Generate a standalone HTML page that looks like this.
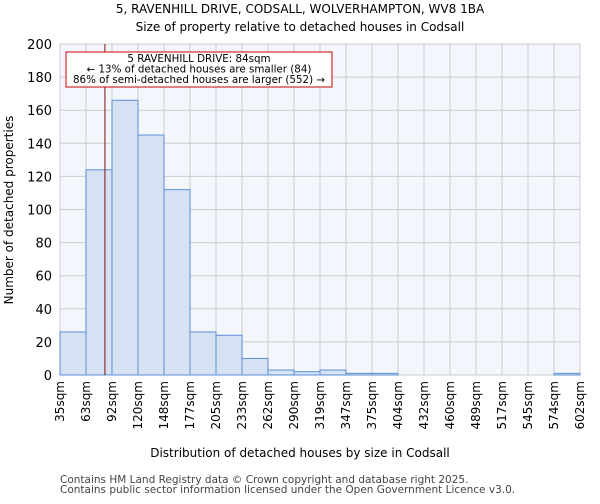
<!DOCTYPE html>
<html><head><meta charset="utf-8"><style>
body{margin:0;background:#fff;font-family:"DejaVu Sans","Liberation Sans",sans-serif}
svg text{font-family:"DejaVu Sans","Liberation Sans",sans-serif}
</style></head><body>
<svg id="chart" width="600" height="500" xmlns="http://www.w3.org/2000/svg">
<text x="300" y="13" text-anchor="middle" font-size="12">5, RAVENHILL DRIVE, CODSALL, WOLVERHAMPTON, WV8 1BA</text>
<text x="300" y="31" text-anchor="middle" font-size="12">Size of property relative to detached houses in Codsall</text>
<rect x="60" y="44" width="520" height="331" fill="#f3f6fd"/>
<g id="grid"></g><g id="bars"></g><g id="axes"></g>
<text x="300" y="457" text-anchor="middle" font-size="12">Distribution of detached houses by size in Codsall</text>
<text transform="translate(13,210) rotate(-90)" text-anchor="middle" font-size="12">Number of detached properties</text>
<text x="60" y="483" font-size="10.5" fill="#444">Contains HM Land Registry data © Crown copyright and database right 2025.</text>
<text x="60" y="493" font-size="10.5" fill="#444">Contains public sector information licensed under the Open Government Licence v3.0.</text>
</svg>
<script>
const edges=[35,63,92,120,148,177,205,233,262,290,319,347,375,404,432,460,489,517,545,574,602];
const edgeLabels=["35sqm","63sqm","92sqm","120sqm","148sqm","177sqm","205sqm","233sqm","262sqm","290sqm","319sqm","347sqm","375sqm","404sqm","432sqm","460sqm","489sqm","517sqm","545sqm","574sqm","602sqm"];
const counts=[26,124,166,145,112,26,24,10,3,2,3,1,1,0,0,0,0,0,0,1];
const yTicks=[0,20,40,60,80,100,120,140,160,180,200];
const propertySize=84;
const NS="http://www.w3.org/2000/svg";
const L=60,R=580,T=44,B=375;
const xi=i=>L+(R-L)*i/(edges.length-1);
const xv=v=>L+(R-L)*(v-edges[0])/(edges[edges.length-1]-edges[0]);
const y=v=>B-(B-T)*v/200;
function mk(tag,at,parent,txt){const e=document.createElementNS(NS,tag);for(const k in at)e.setAttribute(k,at[k]);if(txt!=null)e.textContent=txt;document.getElementById(parent).appendChild(e);return e;}
yTicks.forEach(t=>{
 const g=mk('line',{x1:L,x2:R,y1:y(t),y2:y(t),stroke:'#ccc','stroke-width':1},'grid');
 
 
 const tl=mk('text',{x:L-8,y:y(t)+5,'text-anchor':'end','font-size':13},'axes',t);
 
 
});
edges.forEach((e,i)=>{
 const g=mk('line',{x1:xi(i),x2:xi(i),y1:T,y2:B,stroke:'#ccc','stroke-width':1},'grid');
 
 
 const tl=mk('text',{transform:`translate(${xi(i)+4},${B+6}) rotate(-90)`,'text-anchor':'end','font-size':12},'axes',edgeLabels[i]);
 
 
});
counts.forEach((c,i)=>{
 const b=mk('rect',{x:xi(i),y:y(c),width:xi(i+1)-xi(i),height:B-y(c),fill:'#d6e1f3',stroke:'#5b8fd6','stroke-width':1},'bars');
 
 
});
const pl=mk('line',{x1:xv(propertySize),x2:xv(propertySize),y1:T,y2:B,stroke:'#7a1010','stroke-width':1},'axes');


const box=mk('rect',{x:66,y:52,width:266,height:35,fill:'#fff',stroke:'#c00','stroke-width':1},'axes');


["5 RAVENHILL DRIVE: 84sqm","← 13% of detached houses are smaller (84)","86% of semi-detached houses are larger (552) →"].forEach((s,i)=>{
 const t=mk('text',{x:199,y:62+i*10.5,'text-anchor':'middle','font-size':10.3},'axes',s);
 
 
});
</script>
</body></html>
